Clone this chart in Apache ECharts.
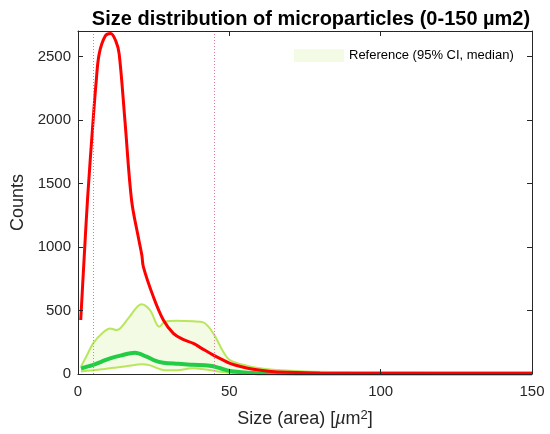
<!DOCTYPE html>
<html>
<head>
<meta charset="utf-8">
<script src="https://cdn.jsdelivr.net/npm/echarts@6/dist/echarts.min.js"></script>
<style>html,body{margin:0;padding:0;background:#fff}#c{width:550px;height:434px}</style>
</head>
<body>
<div id="c"></div>
<script>
// Reference CI (common x grid)
const ciX     = [1, 3, 5, 8, 10.6, 12.8, 14, 17, 21, 23.8, 26.9, 28.7, 32.6, 38, 41.4, 44.7, 48, 50.2, 55.7, 60, 65.6, 75, 90, 110, 130, 150];
const ciUpper = [58, 150, 241, 320, 359, 346, 360, 450, 550, 503, 372, 411, 419, 415, 406, 320, 175, 110, 65, 45, 31, 20, 15, 13, 12, 12];
const ciLower = [20, 25, 30, 38, 45, 52, 55, 65, 76, 68, 40, 30, 30, 45, 38, 26, 15, 10, 6, 5, 4, 3, 3, 3, 3, 3];
// Reference median
const medX    = [1, 3, 5, 8, 10.6, 14, 18.8, 22.7, 25, 28.2, 33, 38.1, 43.6, 47, 50.2, 54, 58, 65, 80, 100, 150];
const medY    = [42, 58, 71, 100, 123, 145, 168, 136, 110, 89, 80, 73, 65, 45, 24, 14, 8, 5, 4, 3, 3];
// Sample
const smpX    = [0.9, 2, 3.2, 5, 6, 7, 9, 10.8, 12.5, 13.6, 15.5, 17.7, 19.9, 21.1, 21.6, 24.9, 28.2, 31.5, 34.5, 38.1, 41, 44.7, 47.5, 50.2, 54, 57.9, 63, 69, 80, 100, 150];
const smpY    = [425, 900, 1394, 2000, 2300, 2520, 2660, 2680, 2620, 2520, 1997, 1368, 1080, 935, 844, 608, 425, 320, 275, 241, 200, 149, 115, 84, 57, 37, 22, 13, 6, 4, 3];
// Limits and ticks
const vLines  = [5, 45];
const xTicks  = {min: 0, max: 150, interval: 50};
const yTicks  = {min: 0, max: 2700, interval: 500};
const legendName = 'Reference (95% CI, median)';

const zip = (a, b) => a.map((v, i) => [v, b[i]]);
const FONT = 'Liberation Sans, Arial, sans-serif';
const SM = 0.35;
const chart = echarts.init(document.getElementById('c'));

const axisCommon = {
  z: 10,
  axisLine: {show: true, onZero: false, lineStyle: {color: '#262626', width: 1}},
  axisTick: {show: true, inside: true, length: 5, lineStyle: {color: '#262626'}},
  splitLine: {show: false}
};

chart.setOption({
  animation: false,
  textStyle: {fontFamily: FONT},
  title: {
    text: 'Size distribution of microparticles (0-150 µm2)',
    left: 306, top: 4, textAlign: 'center',
    textStyle: {fontSize: 20, fontWeight: 'bold', color: '#000', fontFamily: FONT}
  },
  legend: {
    left: 294, top: 49, padding: 0,
    itemWidth: 50, itemHeight: 13,
    textStyle: {fontSize: 13, color: '#000', fontFamily: FONT},
    data: [{name: legendName, icon: 'rect', itemStyle: {color: '#f4fbe4', borderWidth: 0}}]
  },
  grid: {left: 78, right: 18, top: 31, bottom: 60, containLabel: false},
  xAxis: [
    Object.assign({type: 'value', position: 'bottom', min: xTicks.min, max: xTicks.max, interval: xTicks.interval,
      name: 'Size (area) [{i|µ}m{s|2}]', nameLocation: 'middle', nameGap: 35,
      nameTextStyle: {fontSize: 18, color: '#262626', fontFamily: FONT,
        rich: {i: {fontSize: 18, fontStyle: 'italic', color: '#262626', fontFamily: FONT},
               s: {fontSize: 13, verticalAlign: 'top', color: '#262626', padding: [0, 0, 7, 0], fontFamily: FONT}}},
      axisLabel: {fontSize: 15, color: '#262626', margin: 10, fontFamily: FONT}}, axisCommon),
    Object.assign({type: 'value', position: 'top', min: xTicks.min, max: xTicks.max, interval: xTicks.interval,
      axisLabel: {show: false}}, axisCommon)
  ],
  yAxis: [
    Object.assign({type: 'value', position: 'left', min: yTicks.min, max: yTicks.max, interval: yTicks.interval,
      name: 'Counts', nameLocation: 'middle', nameGap: 44,
      nameTextStyle: {fontSize: 18, color: '#262626', fontFamily: FONT},
      axisLabel: {fontSize: 15, color: '#262626', margin: 7, showMaxLabel: false, fontFamily: FONT,
        formatter: v => String(v)}}, axisCommon),
    Object.assign({type: 'value', position: 'right', min: yTicks.min, max: yTicks.max, interval: yTicks.interval,
      axisLabel: {show: false}}, axisCommon)
  ],
  series: [
    {
      type: 'line', name: legendName, data: zip(ciX, ciUpper), showSymbol: false, smooth: SM,
      lineStyle: {width: 2, color: '#b8e65c'}, itemStyle: {color: '#b8e65c'},
      areaStyle: {color: '#f4fbe4', opacity: 1}, z: 1
    },
    {
      type: 'line', name: 'lower', data: zip(ciX, ciLower), showSymbol: false, smooth: SM,
      lineStyle: {width: 2, color: '#b8e65c'}, itemStyle: {color: '#b8e65c'},
      areaStyle: {color: '#ffffff', opacity: 1}, z: 2
    },
    {
      type: 'line', name: 'median', data: zip(medX, medY), showSymbol: false, smooth: SM,
      lineStyle: {width: 4, color: '#22cc44'}, itemStyle: {color: '#22cc44'}, z: 3
    },
    {
      type: 'line', name: 'sample', data: zip(smpX, smpY), showSymbol: false, smooth: SM,
      lineStyle: {width: 3, color: '#ff0000'}, itemStyle: {color: '#ff0000'}, z: 4,
      markLine: {
        silent: true, symbol: 'none', label: {show: false},
        lineStyle: {type: [1, 2], color: '#e07aa6', width: 1, opacity: 1},
        data: vLines.map(v => ({xAxis: v}))
      }
    }
  ]
});
</script>
</body>
</html>
